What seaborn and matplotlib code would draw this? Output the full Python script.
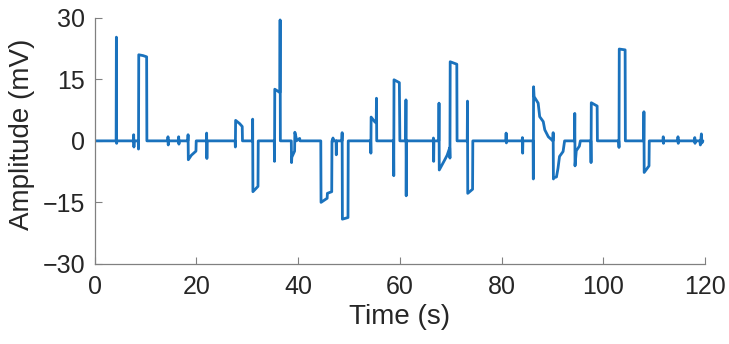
import numpy as np
import pandas as pd
import matplotlib
matplotlib.use("Agg")
import matplotlib.pyplot as plt
import seaborn as sns

# ---- data ----
time_s = [0, 4.2, 4.25, 4.3, 4.35, 4.4,
          7.6, 7.65, 7.7, 7.75,
          8.55, 8.6, 8.65, 9.5, 10.2, 10.25,
          14.35, 14.4, 14.45, 14.5,
          16.45, 16.5, 16.55, 16.6,
          18.3, 18.35, 18.4, 19.0, 19.9, 19.95,
          21.95, 22.0, 22.05, 22.1,
          27.6, 27.65, 27.7, 28.5, 29.0, 29.05,
          31.0, 31.05, 31.1, 32.1, 32.15,
          35.3, 35.35, 35.4, 36.4, 36.45, 36.5,
          38.65, 38.7, 38.75, 39.3, 39.35, 39.6, 39.65, 40.3, 40.35,
          44.45, 44.5, 45.7, 45.75, 46.6, 46.65,
          46.8, 46.85, 46.9, 47.45, 47.5, 47.55,
          48.6, 48.65, 48.7, 49.8, 49.85,
          54.25, 54.3, 54.35, 55.1, 55.35, 55.4, 55.45,
          58.75, 58.8, 58.85, 59.9, 60.0,
          61.15, 61.2, 61.25, 61.3,
          66.55, 66.6, 66.65, 66.7,
          67.65, 67.7, 67.75, 68.8, 69.3, 69.8, 69.85, 69.9, 71.2, 71.25,
          73.25, 73.3, 73.35, 74.3, 74.35,
          80.85, 80.9, 80.95, 81.0,
          84.05, 84.1, 84.15, 84.2,
          86.2, 86.25, 86.3, 86.4, 87.2, 87.5, 88.2, 88.5, 89.2, 90.1,
          90.15, 90.2, 90.25, 90.8, 91.1, 91.4, 92.1, 92.4,
          94.35, 94.4, 94.45, 94.7, 95.3, 95.5,
          97.55, 97.6, 97.65, 98.8, 98.85,
          103.05, 103.1, 103.15, 104.3, 104.35,
          107.95, 108.0, 108.05, 109.0, 109.05,
          111.75, 111.8, 111.85, 111.9,
          114.65, 114.7, 114.75, 114.8,
          117.95, 118.0, 118.05, 118.1,
          119.0, 119.1, 119.3, 119.4, 119.6]
amplitude_mv = [0, 0, 25.3, -0.6, 0, 0,
                0, 1.5, -1.5, 0,
                0, -2.0, 21.0, 20.8, 20.5, 0,
                0, 1.0, -1.0, 0,
                0, 1.0, -0.8, 0,
                0, 1.5, -4.6, -3.5, -2.5, 0,
                0, 1.9, -4.3, 0,
                0, -1.5, 5.0, 4.2, 3.5, 0,
                0, 5.3, -12.4, -11.1, 0,
                0, -5.0, 12.6, 11.8, 29.5, 0,
                0, -5.3, -4.0, -2.5, 2.1, 0.8, 0, 0.6, 0,
                0, -15.0, -14.0, -12.8, -12.4, 0,
                0, 0.7, 0, 0, -3.4, 0,
                0, 2.0, -19.1, -18.7, 0,
                0, -3.0, 5.8, 4.6, 4.4, 10.4, 0,
                0, -8.5, 14.9, 14.2, 0,
                0, 10.0, -13.4, 0,
                0, 0.7, -5.0, 0,
                0, 9.2, -7.1, -4.7, -3.5, -1.7, -4.2, 19.3, 18.7, 0,
                0, 9.7, -12.8, -11.8, 0,
                0, 1.9, -0.5, 0,
                0, 0.8, -3.0, 0,
                0, -9.3, 13.2, 10.8, 9.2, 5.9, 4.7, 2.7, 1.0, 0,
                2.0, -9.3, -9.0, -8.8, -6.7, -3.8, -2.6, 0,
                0, 6.7, -6.1, -2.4, -1.3, 0,
                0, -5.3, 9.3, 8.5, 0,
                0, -1.6, 22.4, 22.2, 0,
                0, 7.1, -7.7, -6.1, 0,
                0, 1.0, -0.6, 0,
                0, 1.0, -0.6, 0,
                0, 0.8, -0.6, 0,
                0, -1.0, 1.7, -0.5, 0]
x_ticks = [0, 20, 40, 60, 80, 100, 120]
y_ticks = [-30, -15, 0, 15, 30]
x_label = "Time (s)"
y_label = "Amplitude (mV)"

df = pd.DataFrame({"t": time_s, "v": amplitude_mv})

sns.set_style("white")
plt.rcParams["font.family"] = ["Liberation Sans", "DejaVu Sans"]

fig = plt.figure(figsize=(7.29, 3.44), dpi=100)
ax = fig.add_axes([0.130, 0.233, 0.837, 0.715])
sns.lineplot(data=df, x="t", y="v", estimator=None, sort=False,
             color="#1a72bd", linewidth=2.0, ax=ax)

ax.set_xlim(0, 120)
ax.set_ylim(-30, 30)
ax.set_xticks(x_ticks)
ax.set_yticks(y_ticks)
ax.set_xlabel(x_label, fontsize=20, color="#262626")
ax.set_ylabel(y_label, fontsize=20, color="#262626")
ax.xaxis.set_label_coords(0.5, -0.165)
ax.yaxis.set_label_coords(-0.098, 0.528)
ax.tick_params(bottom=True, left=True, direction="in", length=5, width=0.8,
               color="#808080", labelsize=18, labelcolor="#262626")
ax.tick_params(axis="x", pad=8)
ax.tick_params(axis="y", pad=7)
for s in ["top", "right"]:
    ax.spines[s].set_visible(False)
for s in ["left", "bottom"]:
    ax.spines[s].set_color("#808080")
    ax.spines[s].set_linewidth(0.9)

fig.savefig("out.png", dpi=100)
